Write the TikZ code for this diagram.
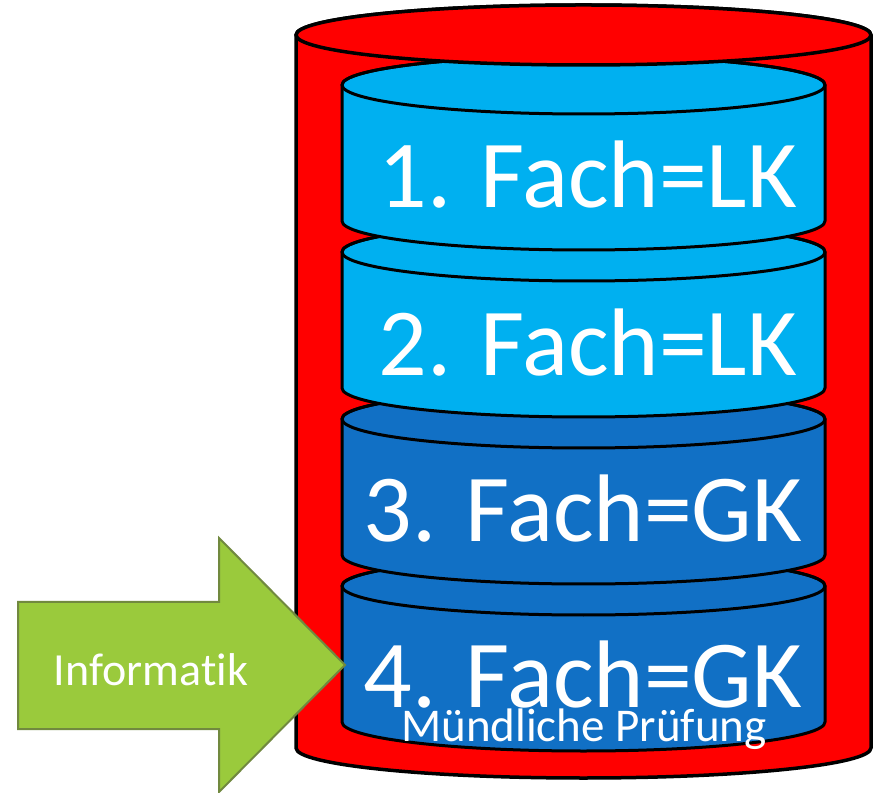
\documentclass[tikz,border=0pt]{standalone}
\usepackage{fontspec}
\setmainfont[RawFeature={-liga;-dlig}]{Carlito}
\definecolor{lblue}{RGB}{0,176,240}
\definecolor{dblue}{RGB}{17,112,197}
\definecolor{cred}{RGB}{255,0,0}
\definecolor{agreen}{RGB}{154,202,60}
\definecolor{agreenb}{RGB}{113,137,63}
\tikzset{
  diskline/.style={draw=black, line width=3pt, line join=round},
  bigtext/.style={text=white, anchor=base, inner sep=0pt, font=\fontsize{96}{96}\selectfont},
  smalltext/.style={text=white, anchor=base, inner sep=0pt, font=\fontsize{47}{47}\selectfont},
  arrowtext/.style={text=white, anchor=base, inner sep=0pt, font=\fontsize{46}{46}\selectfont},
}
\newcommand\mydisk[3]{% #1 top y, #2 bottom y, #3 colour
  \path[diskline, fill=#3] (342,#1) -- (342,#2)
    arc[start angle=180, end angle=360, x radius=241.5, y radius=29]
    -- (825,#1)
    arc[start angle=0, end angle=180, x radius=241.5, y radius=29] -- cycle;
  \draw[diskline] (583.5,#1) ellipse[x radius=241.5, y radius=29];
}
\begin{document}
\begin{tikzpicture}[x=1pt,y=1pt]
\useasboundingbox (0,0) rectangle (882,792);
% outer red cylinder body
\path[diskline, line width=3.5pt, fill=cred] (296,757) -- (296,44)
  arc[start angle=180, end angle=360, x radius=287.5, y radius=30]
  -- (871,757)
  arc[start angle=0, end angle=180, x radius=287.5, y radius=30] -- cycle;
% disks, bottom first
\mydisk{206}{70}{dblue}
\mydisk{373}{237}{dblue}
\mydisk{540}{404}{lblue}
\mydisk{707}{571}{lblue}
% red top lid
\path[diskline, line width=3.5pt, fill=cred] (583.5,757) ellipse[x radius=287.5, y radius=30];
% arrow
\path[draw=agreenb, line width=2pt, fill=agreen, line join=miter]
  (18,190) -- (219,190) -- (219,254) -- (345,127) -- (219,0) -- (219,63) -- (18,63) -- cycle;
% texts
\node[bigtext] (f1) at (588,584) {1. Fach=LK};
\node[bigtext] (f2) at (588,416) {2. Fach=LK};
\node[bigtext] (f3) at (583,250) {3. Fach=GK};
\node[bigtext] (f4) at (583,85) {4. Fach=GK};
\node[smalltext] (mp) at (584,51) {Mündliche Prüfung};
\node[arrowtext] (inf) at (151,107) {Informatik};
\end{tikzpicture}
\end{document}
